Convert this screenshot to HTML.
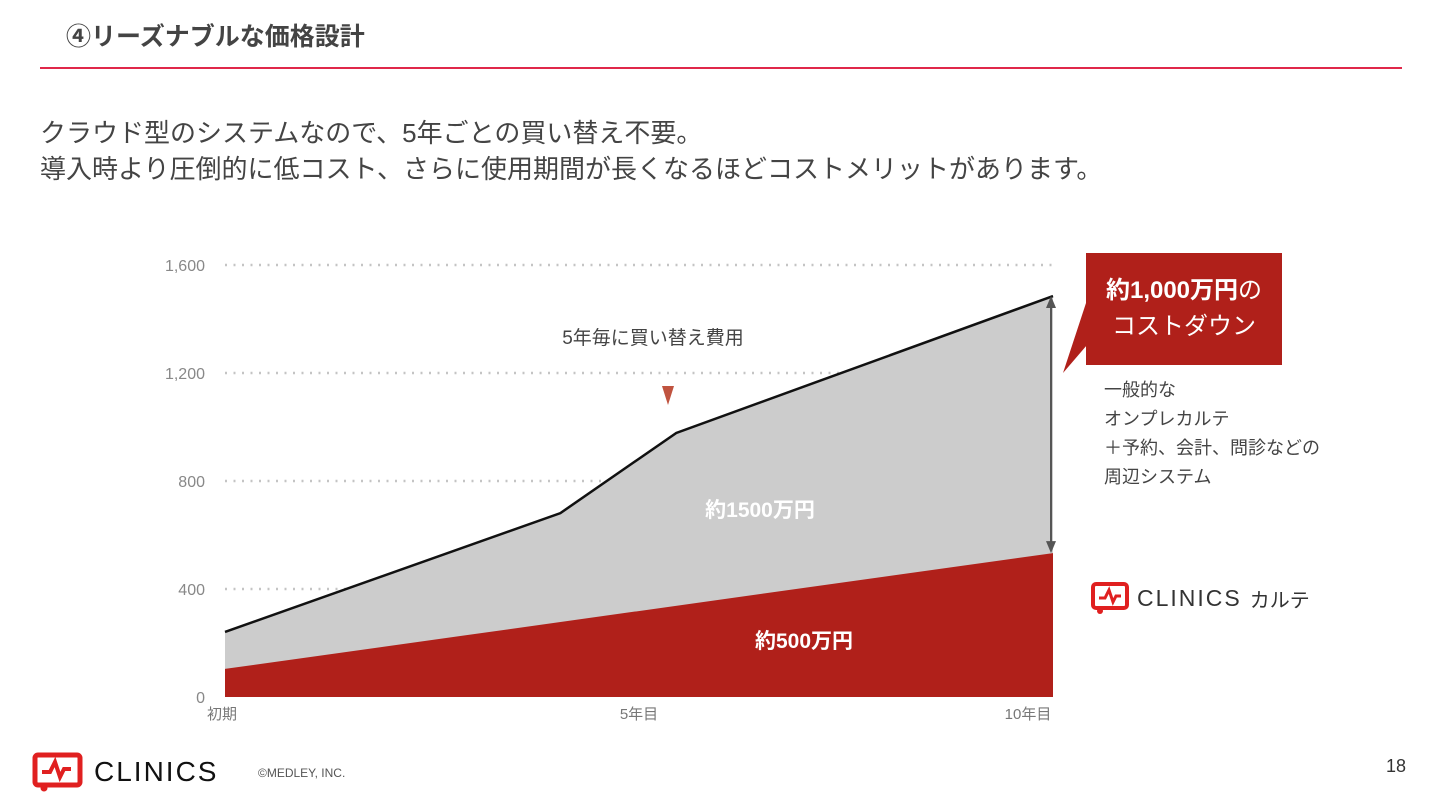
<!DOCTYPE html>
<html><head><meta charset="utf-8"><style>
body{margin:0;width:1440px;height:810px;background:#fff;overflow:hidden;position:relative;font-family:"Liberation Sans","Noto Sans CJK JP",sans-serif;}
.abs{position:absolute;}
</style></head><body>
<div class="abs" style="left:66px;top:17px;font-size:25px;font-weight:bold;color:#444;">④リーズナブルな価格設計</div>
<div class="abs" style="left:40px;top:67px;width:1362px;height:2px;background:#e0284a;"></div>
<div class="abs" style="left:40px;top:115px;font-size:26px;line-height:36px;color:#444;">クラウド型のシステムなので、5年ごとの買い替え不要。<br>導入時より圧倒的に低コスト、さらに使用期間が長くなるほどコストメリットがあります。</div>

<svg class="abs" style="left:0;top:0" width="1440" height="810">
<g id="grid"></g><g id="areas"></g><g id="labels"></g>
</svg>

<div class="abs" style="left:1086px;top:253px;width:196px;height:112px;background:#b0201a;color:#fff;text-align:center;font-size:24px;line-height:36px;padding-top:20px;box-sizing:border-box;"><b>約1,000万円</b>の<br>コストダウン</div>
<div class="abs" style="left:1104px;top:376px;font-size:18px;line-height:29px;color:#444;">一般的な<br>オンプレカルテ<br>＋予約、会計、問診などの<br>周辺システム</div>
<div class="abs" style="left:1091px;top:582px;font-size:22px;color:#333;display:flex;align-items:center;">
<svg width="38" height="32" viewBox="0 0 38 32"><rect x="2" y="2" width="34" height="24" rx="3" fill="none" stroke="#e02020" stroke-width="4"/><path d="M8 16h6l4-8 4 12 3-6h5" fill="none" stroke="#e02020" stroke-width="3"/><circle cx="9" cy="29" r="3" fill="#e02020"/></svg>
<span style="margin-left:8px;letter-spacing:2px;font-size:23px;">CLINICS</span><span style="margin-left:8px;font-size:20px;">カルテ</span></div>

<div class="abs" style="left:32px;top:752px;display:flex;align-items:center;">
<svg width="52" height="40" viewBox="0 0 52 40"><rect x="3" y="3" width="45" height="30" rx="3" fill="none" stroke="#e02020" stroke-width="5"/><path d="M10 20h8l5-10 5 15 4-8h7" fill="none" stroke="#e02020" stroke-width="4"/><circle cx="12" cy="36" r="3.5" fill="#e02020"/></svg>
<span style="margin-left:10px;font-size:28px;letter-spacing:2px;color:#111;">CLINICS</span></div>
<div class="abs" style="left:258px;top:766px;font-size:12px;color:#555;">©MEDLEY, INC.</div>
<div class="abs" style="left:1386px;top:756px;font-size:18px;color:#333;">18</div>

<script>
const xCats=['初期','5年目','10年目'];
const xCatYears=[0,5,10];
const yTicks=[0,400,800,1200,1600];
const totalYears=[0,4.05,5.45,10];
const totalValues=[241,681,978,1485];
const clinicsYears=[0,10];
const clinicsValues=[104,533];
const NS='http://www.w3.org/2000/svg';
const X0=225,X1=1053,Y0=697,Y1=265;
const xs=v=>X0+(X1-X0)*v/10;
const ys=v=>Y0-(Y0-Y1)*v/1600;
function mk(t,a,p){const e=document.createElementNS(NS,t);for(const k in a)e.setAttribute(k,a[k]);p.appendChild(e);return e;}
const grid=document.getElementById('grid'),areas=document.getElementById('areas'),labels=document.getElementById('labels');
yTicks.forEach(t=>{
 if(t>0){const l=mk('line',{x1:X0,x2:X1,y1:ys(t),y2:ys(t),stroke:'#c4c4c4','stroke-width':2.5,'stroke-dasharray':'2 6.5'},grid);
 
 }
 const tx=mk('text',{x:205,y:ys(t)+6,'text-anchor':'end','font-size':16,fill:'#888'},labels);tx.textContent=t.toLocaleString('en-US');
 
 
});
xCats.forEach((c,i)=>{
 const anchor=i===0?'start':'middle';
 const tx=mk('text',{x:xs(xCatYears[i])+(i===0?-18:(i===2?-25:0)),y:719,'text-anchor':anchor,'font-size':15,fill:'#777'},labels);tx.textContent=c;
 
 
});
let d='M'+xs(totalYears[0])+','+Y0;
totalYears.forEach((y,i)=>d+=' L'+xs(y)+','+ys(totalValues[i]));
d+=' L'+xs(totalYears[totalYears.length-1])+','+Y0+' Z';
const g=mk('path',{d:d,fill:'#cccccc'},areas);


let d2='M'+xs(clinicsYears[0])+','+Y0;
clinicsYears.forEach((y,i)=>d2+=' L'+xs(y)+','+ys(clinicsValues[i]));
d2+=' L'+xs(clinicsYears[clinicsYears.length-1])+','+Y0+' Z';
const r=mk('path',{d:d2,fill:'#b0201a'},areas);


const ln=mk('polyline',{points:totalYears.map((y,i)=>xs(y)+','+ys(totalValues[i])).join(' '),fill:'none',stroke:'#111','stroke-width':2.5},areas);


const ax=xs(10)-2,ya=ys(totalValues[totalValues.length-1]),yb=ys(clinicsValues[clinicsValues.length-1]);
const ar=mk('g',{},labels);


mk('line',{x1:ax,x2:ax,y1:ya+8,y2:yb-8,stroke:'#555','stroke-width':2},ar);
mk('polygon',{points:`${ax-5},${ya+12} ${ax+5},${ya+12} ${ax},${ya}`,fill:'#555'},ar);
mk('polygon',{points:`${ax-5},${yb-12} ${ax+5},${yb-12} ${ax},${yb}`,fill:'#555'},ar);
const tail=mk('polygon',{points:'1087,300 1087,345 1063,373',fill:'#b0201a'},labels);


const tri=mk('polygon',{points:'662,386 674,386 668,405',fill:'#c0533f'},labels);


const ann=mk('text',{x:653,y:344,'text-anchor':'middle','font-size':19,fill:'#444'},labels);ann.textContent='5年毎に買い替え費用';


const l1=mk('text',{x:760,y:517,'text-anchor':'middle','font-size':21,'font-weight':'bold',fill:'#fff'},labels);l1.textContent='約1500万円';


const l2=mk('text',{x:804,y:648,'text-anchor':'middle','font-size':21,'font-weight':'bold',fill:'#fff'},labels);l2.textContent='約500万円';


</script>
</body></html>
